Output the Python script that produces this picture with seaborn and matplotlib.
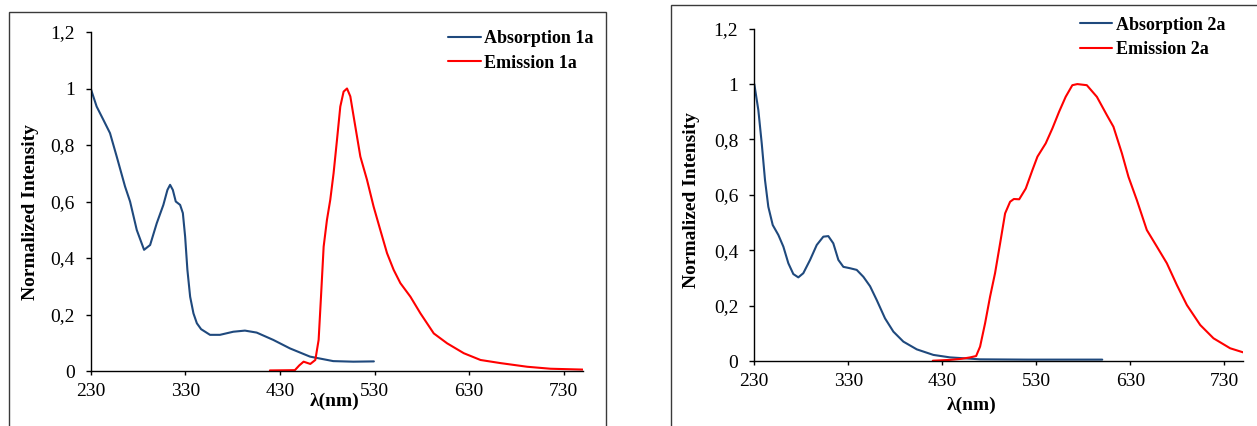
import matplotlib
matplotlib.use("Agg")
import matplotlib.pyplot as plt
from matplotlib.patches import Rectangle
from matplotlib.ticker import FixedLocator, FuncFormatter
import seaborn as sns
import pandas as pd

# ---------------- data ----------------
abs1_x = [230, 236.3, 243.4, 250.4, 257.5, 266.3, 271.6, 278.7, 286.4, 292.8, 299.8, 306.8,
          311.1, 313.9, 316.8, 319.9, 324.5, 327.4, 329.8, 332.2, 335.1, 338.6, 342.2, 346.7,
          356.1, 366.6, 380.7, 393.0, 405.4, 423, 440.6, 461.7, 486.3, 507.5, 529.3]
abs1_y = [1.0, 0.936, 0.889, 0.842, 0.759, 0.653, 0.600, 0.499, 0.429, 0.446, 0.523, 0.588,
          0.641, 0.659, 0.641, 0.600, 0.588, 0.559, 0.476, 0.358, 0.263, 0.204, 0.169, 0.148,
          0.128, 0.128, 0.139, 0.143, 0.136, 0.110, 0.080, 0.051, 0.035, 0.033, 0.034]

em1_x = [419.4, 445.8, 450.5, 455.0, 462.1, 467.4, 470.9, 473.4, 476.2, 479.7, 483.2, 486.7,
         490.3, 493.8, 497.3, 500.9, 504.4, 507.9, 515.0, 522.0, 529.0, 536.1, 543.2, 550.2,
         557.3, 567.9, 578.5, 592.6, 606.7, 624.3, 642.0, 663.0, 691.4, 716.0, 750.0]
em1_y = [0.002, 0.003, 0.020, 0.033, 0.025, 0.039, 0.110, 0.263, 0.440, 0.535, 0.606, 0.700,
         0.818, 0.936, 0.989, 1.000, 0.972, 0.901, 0.759, 0.677, 0.582, 0.499, 0.417, 0.358,
         0.311, 0.263, 0.204, 0.133, 0.098, 0.063, 0.039, 0.028, 0.015, 0.008, 0.005]

abs2_x = [230, 234.3, 237.9, 241.4, 244.9, 249.6, 255.6, 260.9, 266.2, 271.5, 276.8, 282.1,
          289.3, 296.4, 303.4, 308.7, 314.0, 319.4, 324.7, 331.8, 338.9, 346.0, 353.1, 360.2,
          369.0, 377.9, 388.5, 402.8, 420.4, 438.2, 452.3, 470, 520, 600]
abs2_y = [1.0, 0.906, 0.786, 0.653, 0.557, 0.491, 0.455, 0.413, 0.353, 0.314, 0.302, 0.317,
          0.365, 0.419, 0.449, 0.451, 0.425, 0.365, 0.340, 0.335, 0.329, 0.304, 0.270, 0.220,
          0.154, 0.106, 0.070, 0.042, 0.022, 0.013, 0.010, 0.006, 0.005, 0.005]

em2_x = [419.8, 438.2, 450.6, 459.5, 465.9, 470.1, 475.4, 480.7, 486.0, 491.4, 496.7, 502.0,
         506.0, 511.7, 518.7, 525.8, 531.1, 539.9, 547, 554.1, 561.1, 568.2, 573.5, 583.6,
         594.3, 604.9, 611.9, 620.9, 627.9, 636.8, 647.4, 658.1, 668.7, 679.4, 690, 704.2,
         718.3, 736, 751]
em2_y = [0.001, 0.004, 0.008, 0.013, 0.018, 0.052, 0.136, 0.232, 0.317, 0.425, 0.533, 0.575,
         0.585, 0.584, 0.623, 0.690, 0.738, 0.786, 0.840, 0.900, 0.954, 0.996, 1.000, 0.996,
         0.954, 0.888, 0.846, 0.750, 0.665, 0.581, 0.473, 0.413, 0.353, 0.274, 0.202, 0.130,
         0.082, 0.046, 0.030]

x_ticks = [230, 330, 430, 530, 630, 730]
y_ticks = [0, 0.2, 0.4, 0.6, 0.8, 1.0, 1.2]
labels_1 = ["Absorption 1a", "Emission 1a"]
labels_2 = ["Absorption 2a", "Emission 2a"]
x_label = "λ(nm)"
y_label = "Normalized Intensity"

ABS_COLOR = "#1F497D"
EM_COLOR = "#FF0000"

# ---------------- style ----------------
sns.set_theme(style="ticks")
plt.rcParams["font.family"] = ["Liberation Serif", "DejaVu Serif"]
plt.rcParams["axes.linewidth"] = 1.0

fig = plt.figure(figsize=(12.57, 4.26), dpi=100)

# panel frames
fig.patches.append(Rectangle((9 / 1257, -0.2), (606 - 9) / 1257, 0.2 + 1 - 12 / 426,
                             transform=fig.transFigure, fill=False, edgecolor="#3a3a3a",
                             linewidth=1.0, zorder=0))
fig.patches.append(Rectangle((670.5 / 1257, -0.2), 0.6, 0.2 + 1 - 4.7 / 426,
                             transform=fig.transFigure, fill=False, edgecolor="#3a3a3a",
                             linewidth=1.0, zorder=0))

ax1 = fig.add_axes([90.7 / 1257, (426 - 371) / 426, (582.7 - 90.7) / 1257, (371 - 32) / 426])
ax2 = fig.add_axes([754.3 / 1257, (426 - 361) / 426, (1243.3 - 754.3) / 1257, (361 - 28.7) / 426])

def fmt(v, pos):
    s = f"{v:g}"
    return s.replace(".", ",")

panels = [
    (ax1, abs1_x, abs1_y, em1_x, em1_y, labels_1, (0.727, 1.005),
     (-0.106, 0.469), (0.4966, -0.063)),
    (ax2, abs2_x, abs2_y, em2_x, em2_y, labels_2, (0.666, 1.036),
     (-0.111, 0.484), (0.445, -0.108)),
]

for ax, ax_x, ax_y, ex, ey, labs, leg_pos, ylab_pos, xlab_pos in panels:
    df_a = pd.DataFrame({"x": ax_x, "y": ax_y})
    df_e = pd.DataFrame({"x": ex, "y": ey})
    sns.lineplot(data=df_a, x="x", y="y", ax=ax, color=ABS_COLOR, linewidth=1.5,
                 label=labs[0], sort=False)
    sns.lineplot(data=df_e, x="x", y="y", ax=ax, color=EM_COLOR, linewidth=1.5,
                 label=labs[1], sort=False)
    ax.set_xlim(230, 750)
    ax.set_ylim(0, 1.2)
    ax.xaxis.set_major_locator(FixedLocator(x_ticks))
    ax.yaxis.set_major_locator(FixedLocator(y_ticks))
    ax.yaxis.set_major_formatter(FuncFormatter(fmt))
    ax.xaxis.set_major_formatter(FuncFormatter(fmt))
    for s in ("top", "right"):
        ax.spines[s].set_visible(False)
    for s in ("left", "bottom"):
        ax.spines[s].set_color("black")
        ax.spines[s].set_linewidth(1.0)
    ax.tick_params(axis="both", direction="out", colors="black", labelsize=14,
                   width=1.0)
    ax.tick_params(axis="y", length=3.5, pad=8)
    ax.tick_params(axis="x", length=3, pad=6)
    ax.set_facecolor("none")
    ax.set_xlabel(x_label, fontsize=14, fontweight="bold", color="black")
    ax.set_ylabel(y_label, fontsize=14, fontweight="bold", color="black")
    ax.yaxis.set_label_coords(*ylab_pos)
    ax.xaxis.set_label_coords(*xlab_pos)
    leg = ax.legend(loc="upper left", bbox_to_anchor=leg_pos, frameon=False,
                    prop={"family": "Liberation Serif", "weight": "bold", "size": 13},
                    handlelength=1.8, handletextpad=0.2, labelspacing=0.4,
                    borderpad=0, borderaxespad=0)
    for t in leg.get_texts():
        t.set_color("black")

fig.savefig("out.png", dpi=100, facecolor="white")
